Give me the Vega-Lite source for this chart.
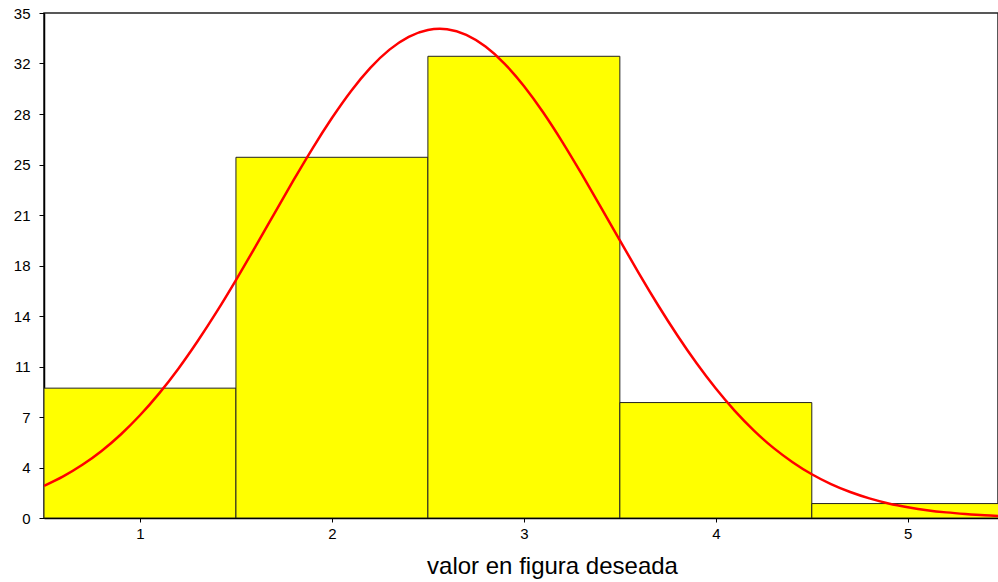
{
  "$schema": "https://vega.github.io/schema/vega-lite/v6.json",
  "autosize": {"type": "none"},
  "width": 954,
  "height": 505,
  "padding": {"left": 44, "top": 13, "right": 0, "bottom": 64},
  "background": "white",
  "config": {
    "font": "Liberation Sans",
    "view": {"stroke": "#222222", "strokeWidth": 1.5},
    "axis": {
      "grid": false,
      "domainColor": "black",
      "domainWidth": 1.5,
      "tickColor": "black",
      "labelColor": "black",
      "titleColor": "black",
      "labelFont": "Liberation Sans",
      "titleFont": "Liberation Sans"
    }
  },
  "datasets": {
    "counts": [
      {"valor": 1, "lo": 0.5, "hi": 1.5, "frecuencia": 9},
      {"valor": 2, "lo": 1.5, "hi": 2.5, "frecuencia": 25},
      {"valor": 3, "lo": 2.5, "hi": 3.5, "frecuencia": 32},
      {"valor": 4, "lo": 3.5, "hi": 4.5, "frecuencia": 8},
      {"valor": 5, "lo": 4.5, "hi": 5.5, "frecuencia": 1}
    ],
    "curva": [
      {"x": 0.5, "y": 2.23}, {"x": 0.6, "y": 2.89}, {"x": 0.7, "y": 3.69},
      {"x": 0.8, "y": 4.65}, {"x": 0.9, "y": 5.79}, {"x": 1.0, "y": 7.12},
      {"x": 1.1, "y": 8.64}, {"x": 1.2, "y": 10.35}, {"x": 1.3, "y": 12.25},
      {"x": 1.4, "y": 14.3}, {"x": 1.5, "y": 16.49}, {"x": 1.6, "y": 18.77},
      {"x": 1.7, "y": 21.1}, {"x": 1.8, "y": 23.41}, {"x": 1.9, "y": 25.64},
      {"x": 2.0, "y": 27.72}, {"x": 2.1, "y": 29.6}, {"x": 2.2, "y": 31.2},
      {"x": 2.3, "y": 32.46}, {"x": 2.4, "y": 33.35}, {"x": 2.5, "y": 33.82},
      {"x": 2.6, "y": 33.87}, {"x": 2.7, "y": 33.48}, {"x": 2.8, "y": 32.67},
      {"x": 2.9, "y": 31.48}, {"x": 3.0, "y": 29.94}, {"x": 3.1, "y": 28.12},
      {"x": 3.2, "y": 26.07}, {"x": 3.3, "y": 23.86}, {"x": 3.4, "y": 21.56},
      {"x": 3.5, "y": 19.24}, {"x": 3.6, "y": 16.94}, {"x": 3.7, "y": 14.73},
      {"x": 3.8, "y": 12.65}, {"x": 3.9, "y": 10.72}, {"x": 4.0, "y": 8.97},
      {"x": 4.1, "y": 7.41}, {"x": 4.2, "y": 6.04}, {"x": 4.3, "y": 4.86},
      {"x": 4.4, "y": 3.87}, {"x": 4.5, "y": 3.03}, {"x": 4.6, "y": 2.35},
      {"x": 4.7, "y": 1.8}, {"x": 4.8, "y": 1.36}, {"x": 4.9, "y": 1.01},
      {"x": 5.0, "y": 0.75}, {"x": 5.1, "y": 0.54}, {"x": 5.2, "y": 0.39},
      {"x": 5.3, "y": 0.28}, {"x": 5.4, "y": 0.19}, {"x": 5.5, "y": 0.13}
    ]
  },
  "layer": [
    {
      "data": {"name": "counts"},
      "mark": {"type": "rect", "fill": "#ffff00", "stroke": "#222222", "strokeWidth": 1, "clip": true},
      "encoding": {
        "x": {
          "field": "lo",
          "type": "quantitative",
          "scale": {"domain": [0.5, 5.47], "nice": false, "zero": false},
          "axis": {
            "values": [1, 2, 3, 4, 5],
            "format": "d",
            "tickSize": 4,
            "labelPadding": 4,
            "labelFontSize": 15,
            "title": "valor en figura deseada",
            "titleFontSize": 24,
            "titleFontWeight": "normal",
            "titleX": 508,
            "titleY": 55,
            "titleBaseline": "alphabetic",
            "titleAnchor": "middle"
          }
        },
        "x2": {"field": "hi"},
        "y": {
          "field": "frecuencia",
          "type": "quantitative",
          "scale": {"domain": [0, 35], "nice": false},
          "axis": {
            "values": [0, 3.5, 7, 10.5, 14, 17.5, 21, 24.5, 28, 31.5, 35],
            "format": ".0f",
            "tickSize": 5,
            "labelPadding": 9,
            "labelFontSize": 15,
            "title": null
          }
        },
        "y2": {"datum": 0}
      }
    },
    {
      "data": {"name": "curva"},
      "mark": {"type": "line", "color": "#ff0000", "strokeWidth": 2.5, "interpolate": "natural", "clip": true},
      "encoding": {
        "x": {"field": "x", "type": "quantitative"},
        "y": {"field": "y", "type": "quantitative"}
      }
    }
  ]
}
